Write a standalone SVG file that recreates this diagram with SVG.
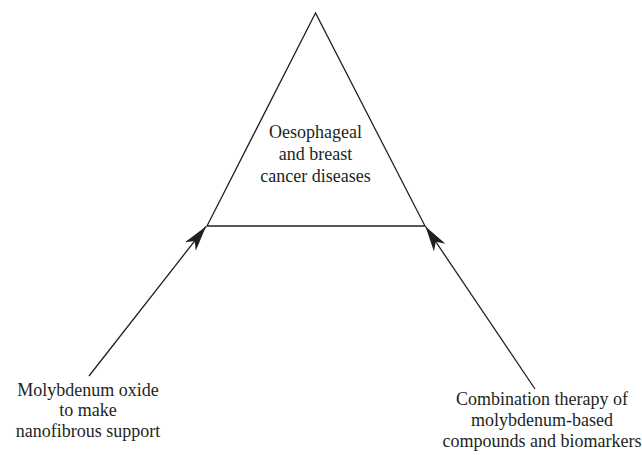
<svg xmlns="http://www.w3.org/2000/svg" width="642" height="455" viewBox="0 0 642 455">
<style>
.t{font-family:"Liberation Serif","Times New Roman",serif;font-size:18px;fill:#231f20;text-anchor:middle}
.ln{stroke:#231f20;stroke-width:1.3;fill:none}
</style>
<defs>
<marker id="ah" markerUnits="userSpaceOnUse" markerWidth="30" markerHeight="20" viewBox="-24 -8 26 16" refX="0" refY="0" orient="auto">
<path d="M0,0 L-22,-6 L-16,0 L-22,6 Z" fill="#231f20"/>
</marker>
</defs>
<g id="triangle">
<path class="ln" d="M315.5,13 L207,226 L425,226 Z"/>
<text class="t" x="315.5" y="138">Oesophageal</text>
<text class="t" x="315.5" y="160">and breast</text>
<text class="t" x="315.5" y="182">cancer diseases</text>
</g>
<g id="left-node">
<text class="t" x="88" y="396">Molybdenum oxide</text>
<text class="t" x="88" y="416">to make</text>
<text class="t" x="88" y="437">nanofibrous support</text>
</g>
<g id="right-node">
<text class="t" x="542" y="405">Combination therapy of</text>
<text class="t" x="542" y="426">molybdenum-based</text>
<text class="t" x="542" y="447">compounds and biomarkers</text>
</g>
<g id="connectors">
<line class="ln" x1="89" y1="376" x2="206" y2="226.5" marker-end="url(#ah)"/>
<line class="ln" x1="535" y1="389" x2="425.5" y2="226.5" marker-end="url(#ah)"/>
</g>
</svg>
